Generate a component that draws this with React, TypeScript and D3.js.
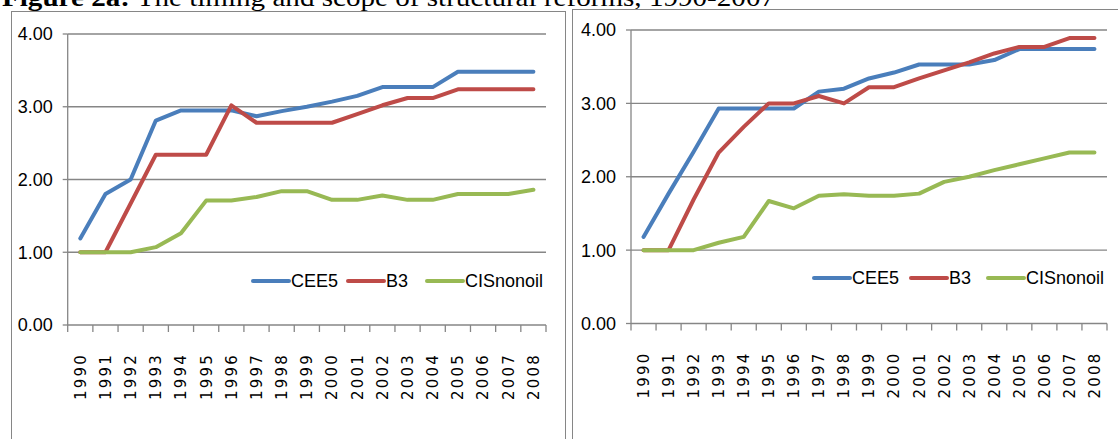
import React from 'react';
import * as d3 from 'd3';

// years on the category axis
const years = ['1990', '1991', '1992', '1993', '1994', '1995', '1996', '1997', '1998', '1999',
  '2000', '2001', '2002', '2003', '2004', '2005', '2006', '2007', '2008'];

const yTicks = [0, 1, 2, 3, 4];

const seriesNames = ['CEE5', 'B3', 'CISnonoil'];
const seriesColors = ['#4A7EBB', '#BE4B48', '#98B954'];

// left panel
const cee5Left = [1.19, 1.80, 2.00, 2.81, 2.95, 2.95, 2.95, 2.87, 2.94, 3.00, 3.07, 3.15, 3.27, 3.27, 3.27, 3.48, 3.48, 3.48, 3.48];
const b3Left = [1.00, 1.00, 1.67, 2.34, 2.34, 2.34, 3.02, 2.78, 2.78, 2.78, 2.78, 2.90, 3.02, 3.12, 3.12, 3.24, 3.24, 3.24, 3.24];
const cisLeft = [1.00, 1.00, 1.00, 1.07, 1.26, 1.71, 1.71, 1.76, 1.84, 1.84, 1.72, 1.72, 1.78, 1.72, 1.72, 1.80, 1.80, 1.80, 1.86];

// right panel
const cee5Right = [1.18, 1.77, 2.34, 2.93, 2.93, 2.93, 2.93, 3.16, 3.20, 3.34, 3.42, 3.53, 3.53, 3.53, 3.59, 3.74, 3.74, 3.74, 3.74];
const b3Right = [1.00, 1.00, 1.69, 2.33, 2.68, 3.00, 3.00, 3.10, 3.00, 3.22, 3.22, 3.34, 3.45, 3.56, 3.68, 3.77, 3.77, 3.89, 3.89];
const cisRight = [1.00, 1.00, 1.00, 1.10, 1.18, 1.67, 1.57, 1.74, 1.76, 1.74, 1.74, 1.77, 1.93, 2.00, 2.09, 2.17, 2.25, 2.33, 2.33];

const AXIS = '#868686';
const LABEL_FONT = "'Liberation Sans Narrow', 'Liberation Sans', Arial, sans-serif";
const YEAR_FONT = "'DejaVu Sans', Verdana, sans-serif";

interface PanelProps {
  frame: { x: number; y: number; w: number; h: number };
  plot: { left: number; right: number; top: number; bottom: number };
  legend: { x: number[]; y: number };
  series: number[][];
}

function Panel({ frame, plot, legend, series }: PanelProps) {
  const x = d3.scaleBand<string>().domain(years).range([plot.left, plot.right]).paddingInner(0).paddingOuter(0);
  const y = d3.scaleLinear().domain([0, 4]).range([plot.bottom, plot.top]);
  const bw = x.bandwidth();
  const fmt = d3.format('.2f');

  const line = d3.line<number>()
    .x((_, i) => (x(years[i]) as number) + bw / 2)
    .y((d) => y(d));

  const edges = years.map((yr) => x(yr) as number).concat([plot.right]);

  return (
    <g>
      <rect x={frame.x} y={frame.y} width={frame.w} height={frame.h} fill="#fff" stroke={AXIS} strokeWidth={1} />

      {/* gridlines */}
      {yTicks.filter((t) => t > 0).map((t) => (
        <line key={t} x1={plot.left} x2={plot.right} y1={y(t)} y2={y(t)} stroke={AXIS} strokeWidth={1.3} />
      ))}

      {/* y axis */}
      <line x1={plot.left} x2={plot.left} y1={plot.top} y2={plot.bottom} stroke={AXIS} strokeWidth={1.3} />
      {yTicks.map((t) => (
        <g key={t}>
          <line x1={plot.left - 5} x2={plot.left} y1={y(t)} y2={y(t)} stroke={AXIS} strokeWidth={1.3} />
          <text x={plot.left - 15} y={y(t)} dy="0.36em" textAnchor="end" fontFamily={LABEL_FONT}
            fontSize={18} fill="#000">{fmt(t)}</text>
        </g>
      ))}

      {/* x axis */}
      <line x1={plot.left} x2={plot.right} y1={plot.bottom} y2={plot.bottom} stroke={AXIS} strokeWidth={1.3} />
      {edges.map((ex, i) => (
        <line key={i} x1={ex} x2={ex} y1={plot.bottom} y2={plot.bottom + 7} stroke={AXIS} strokeWidth={1.3} />
      ))}
      {years.map((yr) => {
        const cx = (x(yr) as number) + bw / 2;
        const ty = plot.bottom + 28;
        return (
          <text key={yr} transform={`translate(${cx},${ty}) rotate(-90)`} dy="0.36em" textAnchor="end"
            fontFamily={YEAR_FONT} fontSize={15} letterSpacing={2.2} fill="#000">{yr}</text>
        );
      })}

      {/* series */}
      {series.map((s, i) => (
        <path key={i} d={line(s) ?? ''} fill="none" stroke={seriesColors[i]} strokeWidth={4}
          strokeLinejoin="round" strokeLinecap="round" />
      ))}

      {/* legend */}
      {seriesNames.map((name, i) => (
        <g key={name}>
          <line x1={legend.x[i]} x2={legend.x[i] + 36} y1={legend.y} y2={legend.y}
            stroke={seriesColors[i]} strokeWidth={4} strokeLinecap="round" />
          <text x={legend.x[i] + 38} y={legend.y} dy="0.36em" fontFamily={LABEL_FONT} fontSize={18}
            fill="#000">{name}</text>
        </g>
      ))}
    </g>
  );
}

export default function App() {
  return (
    <div style={{ position: 'fixed', left: 0, top: 0, width: 1118, height: 439, background: '#fff' }}>
      <svg width={1118} height={439} style={{ display: 'block' }}>
        <text x={2} y={6} fontFamily="'Liberation Serif', 'Times New Roman', serif" fontSize={25} fill="#000"
          textLength={773} lengthAdjust="spacingAndGlyphs">
          <tspan fontWeight="bold">Figure 2a:</tspan> The timing and scope of structural reforms, 1990-2007
        </text>

        <Panel
          frame={{ x: 11.5, y: 11.5, w: 554, h: 460 }}
          plot={{ left: 67.7, right: 546, top: 34, bottom: 325 }}
          legend={{ x: [253, 348, 427], y: 281 }}
          series={[cee5Left, b3Left, cisLeft]}
        />
        <Panel
          frame={{ x: 572.5, y: 9.5, w: 560, h: 460 }}
          plot={{ left: 631, right: 1107, top: 30, bottom: 323.5 }}
          legend={{ x: [814, 911, 988], y: 278 }}
          series={[cee5Right, b3Right, cisRight]}
        />
      </svg>
    </div>
  );
}
